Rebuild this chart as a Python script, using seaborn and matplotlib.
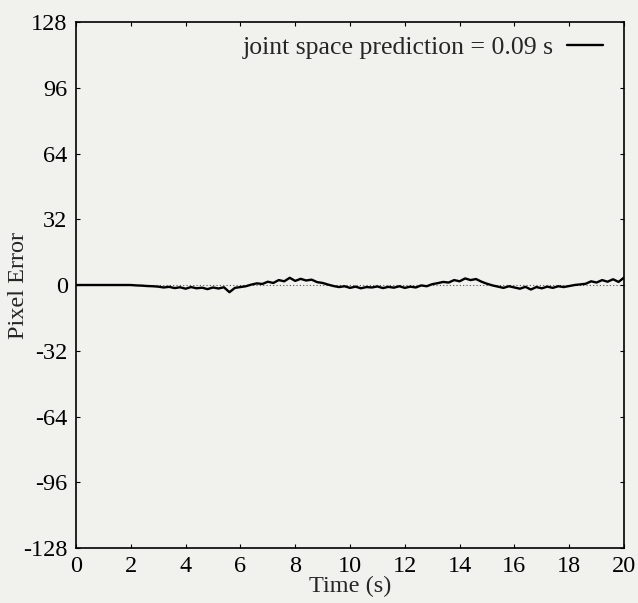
import numpy as np
import pandas as pd
import matplotlib
matplotlib.use("Agg")
import matplotlib.pyplot as plt
import seaborn as sns

time_s = [round(0.2 * i, 1) for i in range(101)]
pixel_error = [
    0, 0, 0, 0, 0, 0, 0, 0, 0, 0, 0, -0.2, -0.3, -0.5, -0.6,
    -0.8, -1.2, -0.9, -1.5, -1.1, -1.8, -1.0, -1.6, -1.3, -2.0, -1.2, -1.7, -1.1, -3.5, -1.4,
    -1.0, -0.6, 0.2, 0.8, 0.5, 1.6, 1.0, 2.4, 1.8, 3.5, 2.0, 3.0, 2.2, 2.6, 1.4,
    1.0, 0.2, -0.5, -1.0, -0.6, -1.4, -0.8, -1.6, -1.0, -1.2, -0.7, -1.5, -0.9, -1.3, -0.6,
    -1.4, -0.8, -1.2, -0.2, -0.6, 0.4, 0.9, 1.5, 1.2, 2.4, 1.8, 3.2, 2.4, 2.9, 1.6,
    0.6, -0.2, -0.8, -1.4, -0.6, -1.2, -1.8, -0.9, -2.2, -1.0, -1.6, -0.8, -1.4, -0.6, -1.0,
    -0.5, 0.0, 0.3, 0.6, 1.8, 1.2, 2.4, 1.6, 2.8, 1.5, 3.6,
]
x_ticks = [0, 2, 4, 6, 8, 10, 12, 14, 16, 18, 20]
y_ticks = [-128, -96, -64, -32, 0, 32, 64, 96, 128]
series_label = "joint space prediction = 0.09 s"

sns.set_style("ticks")
plt.rcParams['font.family'] = ['Liberation Serif', 'DejaVu Serif']
plt.rcParams['axes.unicode_minus'] = False
bg = "#f1f1ee"
fs = 17.5

fig = plt.figure(figsize=(6.38, 6.03), dpi=100, facecolor=bg)
ax = fig.add_axes([0.1191, 0.0912, 0.859, 0.8723])
ax.set_facecolor(bg)

df = pd.DataFrame({"t": time_s, "e": pixel_error})
ax.axhline(0, color="#555555", lw=0.8, ls=(0, (1, 2)), zorder=1)
sns.lineplot(data=df, x="t", y="e", ax=ax, color="black", lw=1.7,
             label=series_label, zorder=2)

ax.set_xlim(0, 20)
ax.set_ylim(-128, 128)
ax.set_xticks(x_ticks)
ax.set_yticks(y_ticks)
ax.set_xlabel("Time (s)", fontsize=fs)
ax.set_ylabel("Pixel Error", fontsize=fs)
ax.xaxis.set_label_coords(0.5, -0.053)
ax.yaxis.set_label_coords(-0.085, 0.5)
ax.tick_params(direction="in", top=True, right=True, length=3, width=0.8,
               labelsize=fs, pad=6, colors="black")
for s in ax.spines.values():
    s.set_visible(True)
    s.set_linewidth(1.2)
    s.set_color("black")

leg = ax.legend(loc="upper right", bbox_to_anchor=(1.0055, 1.019),
                frameon=False, markerfirst=False,
                fontsize=18.5, handlelength=1.4, handletextpad=0.5,
                borderaxespad=0.55)

fig.savefig("out.png", dpi=100, facecolor=bg)
